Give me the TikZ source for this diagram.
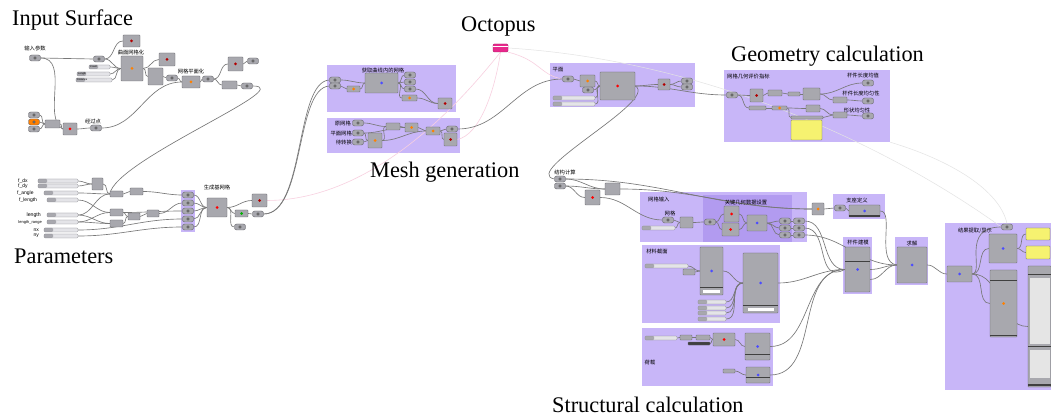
\documentclass[tikz,border=0pt]{standalone}
\usepackage{fontspec}
\setmainfont{Liberation Serif}
\setsansfont{Liberation Sans}
\newfontfamily\cjk{Noto Sans CJK SC}
\usetikzlibrary{fit}
\pgfdeclarelayer{grplayer}
\pgfdeclarelayer{wirelayer}
\pgfsetlayers{grplayer,wirelayer,main}
\definecolor{grpc}{RGB}{200,182,248}
\definecolor{grpd}{RGB}{178,155,240}
\definecolor{compf}{RGB}{168,168,174}
\definecolor{compb}{RGB}{100,100,106}
\definecolor{wirec}{RGB}{120,120,120}
\definecolor{pinkw}{RGB}{248,208,224}
\definecolor{yel}{RGB}{246,242,112}
\definecolor{sldf}{RGB}{228,228,232}
\definecolor{octc}{RGB}{232,40,140}
\tikzset{
  comp/.style={draw=compb, fill=compf, line width=0.4pt, rounded corners=0.6pt, inner sep=0pt},
  grp/.style={fill=grpc, draw=none, inner sep=0pt},
  pnode/.style={draw=compb, fill=compf, rounded corners=2.2pt, minimum width=11pt, minimum height=6pt, inner sep=0pt, line width=0.4pt,
    path picture={\fill[black!70] (path picture bounding box.center) circle (1.7pt); \fill[compf!60!white] (path picture bounding box.center) circle (0.7pt);}},
  sld/.style={draw=compb!80, fill=sldf, rounded corners=1pt, inner sep=0pt, line width=0.3pt,
    path picture={\fill[compf] (path picture bounding box.north west) rectangle ([xshift=9pt]path picture bounding box.south west);}},
  ypan/.style={comp, fill=yel},
  wire/.style={draw=wirec, line width=0.65pt},
  fwire/.style={draw=pinkw, line width=0.6pt},
  cw/.style={out=0, in=180},
  cjkl/.style={font=\cjk\fontsize{5.3}{6}\selectfont, inner sep=0pt},
  plab/.style={font=\sffamily\fontsize{5}{6}\selectfont, inner sep=0pt},
  tinylab/.style={font=\sffamily\fontsize{2.6}{3}\selectfont, inner sep=0pt},
  ttl/.style={font=\fontsize{22.3}{25}\selectfont, inner sep=0pt, anchor=base west},
}
\newcommand{\gbox}[6][]{\node[comp,fit={(#3,#4) (#5,#6)},#1] (#2) {};}
\newcommand{\ggrp}[6][]{\node[grp,fit={(#3,#4) (#5,#6)},#1] (#2) {};}
\newcommand{\pn}[4][]{\node[pnode,#1] (#2) at (#3,#4) {};}
\newcommand{\sldr}[5][]{\node[sld,fit={(#3,#5-2) (#4,#5+2)},#1] (#2) {};}
\newcommand{\icn}[2][orange]{\fill[#1] (#2.center) circle (1.5pt);}
\begin{document}
\begin{tikzpicture}[x=1pt,y=-1pt]
\useasboundingbox (0,0) rectangle (1051,419);
\begin{pgfonlayer}{grplayer}
\fill[white] (0,0) rectangle (1051,419);
\ggrp{colg}{181}{190}{195}{232}
\ggrp{mg1}{327}{65}{456}{112}
\ggrp{mg2}{327}{118}{460}{153}
\ggrp{pg}{550}{63}{695}{107}
\ggrp{gg}{724}{70}{890}{142}
\ggrp{sg1}{640}{192}{807}{242}
\ggrp[fill=grpd]{sg2}{703}{195}{792}{242}
\ggrp{supg}{833}{194}{885}{219}
\ggrp{matg}{642}{245}{780}{323}
\ggrp{ldg}{642}{328}{773}{386}
\ggrp{barg}{843}{237}{872}{294}
\ggrp{solg}{895}{237}{928}{285}
\ggrp{resg}{945}{223}{1051}{390}
\end{pgfonlayer}

% titles
\node[ttl] (t_in) at (12,26) {Input Surface};
\node[ttl] (t_oct) at (461,32) {Octopus};
\node[ttl] (t_geo) at (731,62) {Geometry calculation};
\node[ttl] (t_mesh) at (370,178) {Mesh generation};
\node[ttl] (t_par) at (14,264) {Parameters};
\node[ttl] (t_str) at (552,412) {Structural calculation};

% ---------- Input surface
\node[cjkl] (l_inp) at (35,48) {输入参数};
\pn{i1}{35}{58}
\pn{i2}{99}{59}
\gbox{i3}{123}{35}{140}{47}\icn[red!70!black]{i3}
\node[cjkl] (l_msh) at (131,52) {曲面网格化};
\gbox{i4}{121}{56}{143}{81}\icn{i4}
\sldr{s_count}{89}{110}{67}
\sldr{s_len}{77}{110}{74}
\sldr{s_dist}{76}{112}{80}
\node[tinylab,anchor=west] (l_count) at (90,67) {Count};
\node[tinylab,anchor=west] (l_len) at (78,74) {Length};
\node[tinylab,anchor=west] (l_dist) at (77,80) {Distance};
\gbox{i5}{159}{53}{175}{66}\icn[red!70!black]{i5}
\gbox{i6}{148}{68}{163}{85}
\pn{i7}{172}{78}
\node[cjkl] (l_plan) at (191,71) {网格平面化};
\gbox{i8}{182}{76}{200}{88}\icn{i8}
\pn{i9}{208}{79}
\gbox{i10}{228}{57}{243}{71}\icn[red!70!black]{i10}
\pn{i11}{253}{61}
\gbox{i12}{222}{81}{237}{89}
\pn{i13}{247}{86}
\pn{i14}{34}{115}
\pn[fill=orange]{i15}{34}{122}
\pn{i16}{34}{129}
\gbox{i17}{45}{120}{60}{128}
\gbox{i18}{63}{123}{77}{135}\icn[red]{i18}
\node[cjkl] (l_pass) at (93,121) {经过点};
\pn{i19}{96}{128}

% ---------- Parameters
\node[plab,anchor=west] (l_fdx) at (18,181) {f\_dx};
\node[plab,anchor=west] (l_fdy) at (18,186) {f\_dy};
\node[plab,anchor=west] (l_fan) at (17,193) {f\_angle};
\node[plab,anchor=west] (l_fle) at (19,200) {f\_length};
\node[plab,anchor=east,font=\sffamily\fontsize{5.2}{6}\selectfont] (l_le) at (41,215) {length};
\node[plab,anchor=east,font=\sffamily\fontsize{4}{5}\selectfont] (l_lr) at (42,222) {length\_range};
\node[plab,anchor=east] (l_nx) at (39,230) {nx};
\node[plab,anchor=east] (l_ny) at (39,236) {ny};
\sldr{f1}{38}{78}{181}
\sldr{f2}{38}{78}{186}
\sldr{f3}{44}{78}{193}
\sldr{f4}{47}{78}{200}
\sldr{f5}{47}{78}{215}
\sldr{f6}{47}{78}{222}
\sldr{f7}{44}{78}{230}
\sldr{f8}{44}{78}{236}
\gbox{q1}{92}{178}{103}{190}
\gbox{q2}{110}{191}{123}{197}
\gbox{q3}{130}{188}{143}{195}
\gbox{q4}{110}{209}{123}{216}
\gbox{q5}{110}{220}{123}{227}
\gbox{q6}{128}{213}{140}{220}
\gbox{q7}{147}{210}{159}{217}
\pn{c1}{188}{195}
\pn{c2}{188}{203}
\pn{c3}{188}{211}
\pn{c4}{188}{219}
\pn{c5}{188}{227}
\node[cjkl] (l_gen) at (217,188) {生成基网格};
\gbox{G}{207}{198}{227}{217}\icn[red]{G}
\gbox{q8}{235}{210}{248}{217}\icn[green!70!black]{q8}
\pn{q9}{258}{214}
\pn{q10}{240}{227}
\gbox{q11}{252}{194}{267}{207}\icn[red!70!black]{q11}

% ---------- Mesh generation
\node[cjkl] (l_get) at (383,70) {获取曲线内的网格};
\pn{m1}{335}{80}
\pn{m2}{335}{86}
\gbox{m3}{347}{86}{360}{92}\icn{m3}
\gbox{m4}{365}{73}{398}{93}\icn[blue!70]{m4}
\pn{m5}{410}{75}
\pn{m6}{410}{82}
\pn{m7}{410}{89}
\gbox{m8}{402}{95}{417}{101}\icn{m8}
\gbox{m9}{438}{98}{452}{109}\icn[red!70!black]{m9}
\node[cjkl,anchor=east] (l_orig) at (351,123) {原网格};
\node[cjkl,anchor=east] (l_flat) at (352,133) {平面网格};
\node[cjkl,anchor=east] (l_conv) at (352,142) {待转换};
\pn{m10}{358}{123}
\pn{m11}{358}{133}
\pn{m12}{358}{142}
\gbox{m13}{368}{133}{382}{148}\icn{m13}
\gbox{m14}{386}{123}{400}{130}
\gbox{m15}{405}{123}{418}{132}\icn{m15}
\gbox{m16}{426}{127}{440}{135}\icn{m16}
\pn{m17}{452}{129}
\gbox{m18}{444}{133}{457}{146}\icn[red!70!black]{m18}

% ---------- Octopus
\node[draw=octc!70!black, fill=octc, rounded corners=1.2pt, inner sep=0pt, fit={(493,44) (508,52)}] (oc) {};
\draw[white, line width=0.4pt] ([yshift=-2.5pt]oc.north west) -- ([yshift=-2.5pt]oc.north east);

% ---------- Plane
\node[cjkl] (l_pl) at (558,70) {平面};
\pn{p1}{568}{79}
\gbox{p2}{580}{75}{595}{87}\icn{p2}
\pn{p3}{588}{90}
\sldr{p4}{553}{595}{98}
\sldr{p5}{553}{595}{104}
\gbox{p6}{600}{72}{635}{100}\icn[red]{p6}
\gbox{p7}{658}{79}{670}{90}\icn[red!70!black]{p7}
\pn{p8}{687}{81}
\pn{p9}{687}{87}

% ---------- Geometry
\node[cjkl,anchor=west] (l_geo) at (727,77) {网格几何评价指标};
\pn{g1}{732}{95}
\gbox{g2}{750}{89}{763}{102}\icn[red!70!black]{g2}
\gbox{g3}{768}{90}{782}{96}
\gbox{g4}{788}{92}{800}{96}
\gbox{g5}{803}{88}{820}{100}
\node[cjkl] (l_g6) at (863,75) {杆件长度均值};
\pn{g6}{868}{83}
\node[cjkl] (l_g7) at (861,93) {杆件长度均匀性};
\pn{g7}{868}{101}
\node[cjkl] (l_g8) at (857,111) {形状均匀性};
\pn{g8}{868}{116}
\gbox{g9}{833}{97}{847}{103}
\gbox{g10}{833}{112}{847}{118}
\gbox{g11}{749}{106}{766}{110}
\gbox{g12}{772}{106}{787}{110}\icn{g12}
\gbox{g13}{806}{105}{820}{112}
\gbox{g14}{791}{116}{823}{119}
\node[ypan,fit={(791,120) (822,140)}] (g15) {};

% ---------- Structural
\node[cjkl] (l_str) at (565,172) {结构计算};
\pn{s1}{560}{179}
\pn{s2}{560}{186}
\gbox{s3}{605}{183}{620}{195}
\gbox{s4}{585}{190}{600}{205}\icn[red]{s4}
\node[cjkl,anchor=west] (l_min) at (648,199) {网格输入};
\node[cjkl] (l_mw) at (670,213) {网格};
\pn{s5}{668}{220}
\sldr{s6}{642}{675}{228}
\gbox{s7}{680}{217}{693}{228}
\pn{s8}{710}{222}
\node[cjkl] (l_key) at (746,202) {关键几何数据设置};
\gbox{s9}{724}{206}{739}{222}\icn[red]{s9}
\gbox{s10}{722}{223}{739}{236}\icn[red]{s10}
\gbox{s11}{747}{215}{767}{231}\icn[blue!70]{s11}
\pn{s12}{785}{221}
\pn{s13}{785}{228}
\pn{s14}{785}{235}
\pn{s15}{799}{221}
\pn{s16}{799}{228}
\pn{s17}{799}{235}
\gbox{s18}{812}{203}{824}{215}\icn{s18}
\node[cjkl] (l_sup) at (857,200) {支座定义};
\pn{s19}{840}{208}
\gbox{s20}{849}{205}{880}{217}\icn[blue!70]{s20}
\fill[black!75] ([yshift=0.4pt]s20.south west) rectangle ([yshift=2pt]s20.south east);

% material
\node[cjkl] (l_mat) at (657,251) {材料截面};
\sldr{t1}{645}{688}{266}
\gbox{t2}{683}{269}{695}{275}
\gbox{t3}{700}{247}{723}{295}\icn[blue!70]{t3}
\fill[black!75] ([yshift=7pt]t3.south west) rectangle ([yshift=8.5pt]t3.south east);
\node[fill=white, inner sep=0pt, minimum width=17pt, minimum height=3pt] (t3b) at ([yshift=3.5pt]t3.south) {};
\gbox{t4}{743}{253}{778}{313}\icn[blue!70]{t4}
\fill[black!75] ([yshift=7pt]t4.south west) rectangle ([yshift=8.5pt]t4.south east);
\node[fill=white, inner sep=0pt, minimum width=26pt, minimum height=3pt] (t4b) at ([yshift=3.5pt]t4.south) {};
\sldr{t5}{698}{726}{302}
\sldr{t6}{698}{726}{308}
\sldr{t7}{698}{726}{313}
\sldr{t8}{698}{726}{319}

% load
\node[cjkl] (l_ld) at (650,362) {荷载};
\sldr{u1}{645}{677}{338}
\gbox{u2}{680}{335}{692}{340}
\gbox{u3}{696}{335}{710}{340}
\gbox[fill=black!75]{u4}{688}{342}{710}{345}
\gbox{u5}{713}{333}{735}{346}\icn[red]{u5}
\gbox{u6}{745}{333}{770}{360}\icn[blue!70]{u6}
\fill[black!75] ([yshift=5pt]u6.south west) rectangle ([yshift=6.3pt]u6.south east);
\gbox{u7}{723}{369}{735}{373}
\gbox{u8}{746}{367}{770}{383}\icn[blue!70]{u8}
\fill[black!75] ([yshift=5pt]u8.south west) rectangle ([yshift=6.3pt]u8.south east);

% bar modelling, solve
\node[cjkl] (l_bar) at (858,242) {杆件建模};
\gbox{v1}{845}{247}{870}{292}\icn[blue!70]{v1}
\fill[black!75] ([yshift=-14pt]v1.north west) rectangle ([yshift=-15.5pt]v1.north east);
\node[cjkl] (l_sol) at (912,243) {求解};
\gbox{v2}{897}{247}{927}{283}\icn[blue!70]{v2}

% results
\node[cjkl] (l_res) at (975,231) {结果提取/显示};
\pn{w1}{1007}{227}
\gbox{w2}{947}{266}{972}{282}\icn[blue!70]{w2}
\gbox{w3}{989}{234}{1017}{263}\icn[blue!70]{w3}
\gbox{w4}{990}{270}{1017}{337}\icn{w4}
\fill[black!75] ([yshift=-10pt]w4.north west) rectangle ([yshift=-11.5pt]w4.north east);
\fill[black!75] ([yshift=1pt]w4.south west) rectangle ([yshift=2.5pt]w4.south east);
\node[ypan,fit={(1026,228) (1050,240)}] (w5) {};
\node[ypan,fit={(1026,246) (1050,259)}] (w6) {};
\gbox{w7}{1028}{266}{1051}{387}
\fill[black!75] ([yshift=-8pt]w7.north west) rectangle ([yshift=-9.5pt]w7.north east);
\fill[gray!20] ([xshift=2pt,yshift=-12pt]w7.north west) rectangle ([xshift=-1pt,yshift=-78pt]w7.north east);
\fill[black!75] ([yshift=-80pt]w7.north west) rectangle ([yshift=-81.5pt]w7.north east);
\fill[gray!20] ([xshift=2pt,yshift=-84pt]w7.north west) rectangle ([xshift=-1pt,yshift=-112pt]w7.north east);
\fill[black!75] ([yshift=1pt]w7.south west) rectangle ([yshift=3pt]w7.south east);

% ---------- wires
\begin{pgfonlayer}{wirelayer}
% faint octopus wires
\draw[fwire] (oc.south) .. controls (495,90) and (480,135) .. (m18.east);
\draw[fwire] (q11.east) .. controls (380,200) and (470,90) .. (oc.south);
\draw[fwire] (oc.south east) .. controls (540,60) and (540,75) .. (p1.west);
\draw[draw=gray!22, line width=0.5pt] (oc.east) .. controls (700,60) and (880,140) .. (w1.west);
\draw[draw=gray!22, line width=0.5pt] (gg.south east) .. controls (950,160) and (1000,190) .. (w1.north);
% input surface
\draw[wire] (i1.east) -- (i2.west);
\draw[wire] (i2.east) to[cw] (i3.west);
\draw[wire] (i2.east) to[cw] (i4.west);
\draw[wire] (s_count.east) to[cw] (i4.west);
\draw[wire] (s_len.east) to[cw] (i4.west);
\draw[wire] (s_dist.east) to[cw] (i4.west);
\draw[wire] (i4.east) to[cw] (i5.west);
\draw[wire] (i4.east) to[cw] (i6.west);
\draw[wire] (i6.east) to[cw] (i7.west);
\draw[wire] (i7.east) to[cw] (i8.west);
\draw[wire] (i8.east) to[cw] (i9.west);
\draw[wire] (i9.east) to[cw] (i10.west);
\draw[wire] (i10.east) to[cw] (i11.west);
\draw[wire] (i9.east) to[cw] (i12.west);
\draw[wire] (i12.east) to[cw] (i13.west);
\draw[wire] (i13.east) .. controls (300,86) and (115,160) .. (q2.west);
\draw[wire] (i1.east) .. controls (70,58) and (42,118) .. (i18.west);
\draw[wire] (i14.east) to[cw] (i17.west);
\draw[wire] (i15.east) to[cw] (i17.west);
\draw[wire] (i16.east) to[cw] (i17.west);
\draw[wire] (i17.east) to[cw] (i18.west);
\draw[wire] (i18.east) to[cw] (i19.west);
\draw[wire] (i19.east) to[cw] (i8.west);
% parameters
\draw[wire] (f1.east) to[cw] (q1.west);
\draw[wire] (f2.east) to[cw] (q1.west);
\draw[wire] (q1.east) to[cw] (q2.west);
\draw[wire] (f3.east) to[cw] (q2.west);
\draw[wire] (q2.east) to[cw] (q3.west);
\draw[wire] (q3.east) to[cw] (c1.west);
\draw[wire] (f4.east) to[cw] (q4.west);
\draw[wire] (f5.east) to[cw] (q2.west);
\draw[wire] (f5.east) to[cw] (q5.west);
\draw[wire] (f6.east) to[cw] (q5.west);
\draw[wire] (f6.east) to[cw] (q4.west);
\draw[wire] (q4.east) to[cw] (q6.west);
\draw[wire] (q5.east) to[cw] (q6.west);
\draw[wire] (q6.east) to[cw] (q7.west);
\draw[wire] (q7.east) to[cw] (c2.west);
\draw[wire] (q4.east) to[cw] (c3.west);
\draw[wire] (f7.east) to[cw] (c4.west);
\draw[wire] (f8.east) to[cw] (c5.west);
\draw[wire] (c1.east) to[cw] (G.west);
\draw[wire] (c2.east) to[cw] (G.west);
\draw[wire] (c3.east) to[cw] (G.west);
\draw[wire] (c4.east) to[cw] (G.west);
\draw[wire] (c5.east) to[cw] (G.west);
\draw[wire] (G.east) to[cw] (q8.west);
\draw[wire] (q8.east) to[cw] (q9.west);
\draw[wire] (G.east) to[cw] (q10.west);
\draw[wire] (G.east) to[cw] (q11.west);
\draw[wire] (q9.east) .. controls (305,214) and (295,82) .. (m1.west);
\draw[wire] (q9.east) .. controls (305,214) and (295,88) .. (m2.west);
% mesh
\draw[wire] (m1.east) to[cw] (m4.west);
\draw[wire] (m2.east) to[cw] (m3.west);
\draw[wire] (m3.east) to[cw] (m4.west);
\draw[wire] (m4.east) to[cw] (m5.west);
\draw[wire] (m4.east) to[cw] (m6.west);
\draw[wire] (m4.east) to[cw] (m7.west);
\draw[wire] (m4.east) to[cw] (m8.west);
\draw[wire] (m8.east) to[cw] (m9.west);
\draw[wire] (m7.east) to[cw] (m9.west);
\draw[wire] (m10.east) to[cw] (m14.west);
\draw[wire] (m11.east) to[cw] (m13.west);
\draw[wire] (m12.east) to[cw] (m13.west);
\draw[wire] (m13.east) to[cw] (m14.west);
\draw[wire] (m11.east) to[cw] (m15.west);
\draw[wire] (m14.east) to[cw] (m15.west);
\draw[wire] (m15.east) to[cw] (m16.west);
\draw[wire] (m13.east) to[cw] (m16.west);
\draw[wire] (m16.east) to[cw] (m17.west);
\draw[wire] (m16.east) to[cw] (m18.west);
\draw[wire] (m17.east) to[cw] (p1.west);
% plane
\draw[wire] (p1.east) to[cw] (p2.west);
\draw[wire] (p2.east) to[cw] (p6.west);
\draw[wire] (p3.east) to[cw] (p6.west);
\draw[wire] (p4.east) to[cw] (p6.west);
\draw[wire] (p5.east) to[cw] (p6.west);
\draw[wire] (p6.east) to[cw] (p7.west);
\draw[wire] (p7.east) to[cw] (p8.west);
\draw[wire] (p7.east) to[cw] (p9.west);
\draw[wire] (p6.east) to[cw] (g1.west);
\draw[wire] (p6.east) .. controls (660,100) and (520,172) .. (s1.west);
% geometry
\draw[wire] (g1.east) to[cw] (g2.west);
\draw[wire] (g2.east) to[cw] (g3.west);
\draw[wire] (g3.east) to[cw] (g4.west);
\draw[wire] (g4.east) to[cw] (g5.west);
\draw[wire] (g5.east) to[cw] (g6.west);
\draw[wire] (g5.east) to[cw] (g9.west);
\draw[wire] (g1.east) to[cw] (g11.west);
\draw[wire] (g11.east) to[cw] (g12.west);
\draw[wire] (g12.east) to[cw] (g13.west);
\draw[wire] (g12.east) to[cw] (g14.west);
\draw[wire] (g13.east) to[cw] (g10.west);
\draw[wire] (g14.east) to[cw] (g10.west);
\draw[wire] (g9.east) to[cw] (g7.west);
\draw[wire] (g10.east) to[cw] (g8.west);
% structural
\draw[wire] (s1.east) to[cw] (s3.west);
\draw[wire] (s2.east) to[cw] (s3.west);
\draw[wire] (s2.east) to[cw] (s4.west);
\draw[wire] (s1.east) to[cw] (s18.west);
\draw[wire] (s3.east) to[cw] (s18.west);
\draw[wire] (s4.east) to[cw] (s5.west);
\draw[wire] (s5.east) to[cw] (s7.west);
\draw[wire] (s6.east) to[cw] (s7.west);
\draw[wire] (s7.east) to[cw] (s8.west);
\draw[wire] (s8.east) to[cw] (s9.west);
\draw[wire] (s8.east) to[cw] (s10.west);
\draw[wire] (s9.east) to[cw] (s11.west);
\draw[wire] (s10.east) to[cw] (s11.west);
\draw[wire] (s11.east) to[cw] (s12.west);
\draw[wire] (s11.east) to[cw] (s13.west);
\draw[wire] (s11.east) to[cw] (s14.west);
\draw[wire] (s12.east) -- (s15.west);
\draw[wire] (s13.east) -- (s16.west);
\draw[wire] (s14.east) -- (s17.west);
\draw[wire] (s18.east) to[cw] (s19.west);
\draw[wire] (s19.east) to[cw] (s20.west);
\draw[wire] (s15.east) to[cw] (v1.west);
\draw[wire] (s16.east) .. controls (830,228) and (815,285) .. (v1.west);
\draw[wire] (s17.east) to[cw] (v2.west);
\draw[wire] (s20.east) .. controls (895,211) and (875,262) .. (v2.west);
% material / load
\draw[wire] (t1.east) to[cw] (t3.west);
\draw[wire] (t2.east) to[cw] (t3.west);
\draw[wire] (t3.east) to[cw] (t4.west);
\draw[wire] (t5.east) to[cw] (t4.west);
\draw[wire] (t6.east) to[cw] (t4.west);
\draw[wire] (t7.east) to[cw] (t4.west);
\draw[wire] (t8.east) to[cw] (t4.west);
\draw[wire] (t4.east) to[cw] (v1.west);
\draw[wire] (u1.east) to[cw] (u2.west);
\draw[wire] (u2.east) to[cw] (u3.west);
\draw[wire] (u3.east) to[cw] (u5.west);
\draw[wire] (u4.east) to[cw] (u5.west);
\draw[wire] (u5.east) to[cw] (u6.west);
\draw[wire] (u7.east) to[cw] (u8.west);
\draw[wire] (u6.east) to[cw] (v1.west);
\draw[wire] (u8.east) to[cw] (v1.west);
\draw[wire] (v1.east) to[cw] (v2.west);
\draw[wire] ([yshift=-10pt]v1.east) to[cw] (v2.west);
% results
\draw[wire] (v2.east) to[cw] (w2.west);
\draw[wire] (w2.east) to[cw] (w3.west);
\draw[wire] (w2.east) to[cw] (w4.west);
\draw[wire] (w2.east) to[cw] (w7.west);
\draw[wire] (w2.east) .. controls (985,272) and (960,227) .. (w1.west);
\draw[wire] (w3.east) to[cw] (w5.west);
\draw[wire] (w3.east) to[cw] (w6.west);
\end{pgfonlayer}
\end{tikzpicture}
\end{document}
